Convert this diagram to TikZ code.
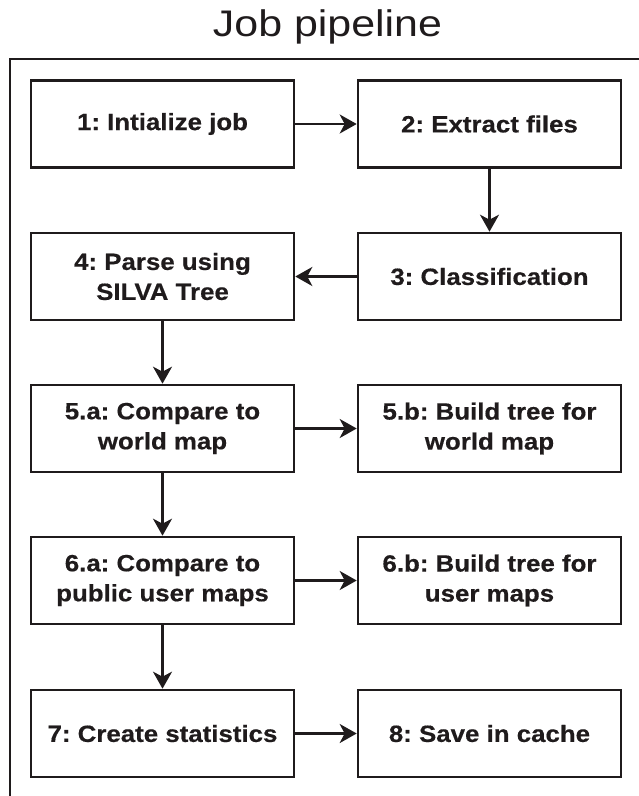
\documentclass[tikz,border=0pt]{standalone}
\usepackage{fontspec}
\setmainfont{Liberation Sans}
\newfontfamily\boxfont[FakeStretch=1.1,FakeBold=0.5]{Liberation Sans Bold}
\newfontfamily\titlefont[FakeStretch=1.16]{Liberation Sans}
\usetikzlibrary{arrows.meta}
\definecolor{ink}{HTML}{1F1B1C}
\begin{document}
\begin{tikzpicture}[x=1pt,y=1pt,
  stepbox/.style={draw=ink,line width=2.6pt,minimum width=263pt,minimum height=87pt,
    inner sep=0pt,align=center,text=ink,font=\boxfont\fontsize{23.5}{30}\selectfont\frenchspacing},
  flow/.style={draw=ink,line width=2.6pt,-{Stealth[length=17pt,width=19pt,inset=5pt]}}]
\useasboundingbox (0,0) rectangle (638,-796);
\node[text=ink,font=\titlefont\fontsize{37}{40}\selectfont] (title) at (327.5,-27) {Job pipeline};
\draw[draw=ink,line width=2.6pt] (10,-797) -- (10,-59) -- (640,-59);
\node[stepbox] (s1) at (162.5,-124) {1: Intialize job};
\node[stepbox] (s2) at (489.5,-124) {2: Extract files};
\node[stepbox] (s3) at (489.5,-276.5) {3: Classification};
\node[stepbox] (s4) at (162.5,-276.5) {4: Parse using\\SILVA Tree};
\node[stepbox] (s5a) at (162.5,-428.5) {5.a: Compare to\\world map};
\node[stepbox] (s5b) at (489.5,-428.5) {5.b: Build tree for\\world map};
\node[stepbox] (s6a) at (162.5,-580.5) {6.a: Compare to\\public user maps};
\node[stepbox] (s6b) at (489.5,-580.5) {6.b: Build tree for\\user maps};
\node[stepbox] (s7) at (162.5,-733.5) {7: Create statistics};
\node[stepbox] (s8) at (489.5,-733.5) {8: Save in cache};
\draw[flow] (s1) -- (s2);
\draw[flow] (s2) -- (s3);
\draw[flow] (s3) -- (s4);
\draw[flow] (s4) -- (s5a);
\draw[flow] (s5a) -- (s5b);
\draw[flow] (s5a) -- (s6a);
\draw[flow] (s6a) -- (s6b);
\draw[flow] (s6a) -- (s7);
\draw[flow] (s7) -- (s8);
\end{tikzpicture}
\end{document}
